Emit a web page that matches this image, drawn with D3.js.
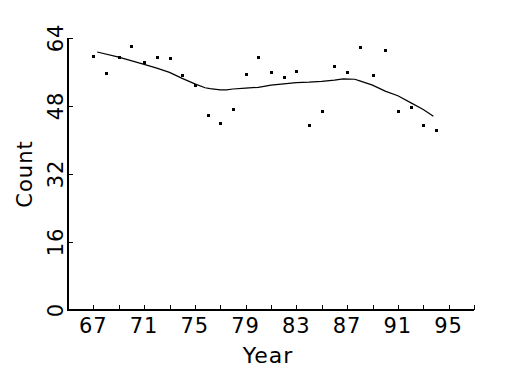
<!DOCTYPE html>
<html lang="en">
<head>
<meta charset="utf-8">
<script src="https://d3js.org/d3.v7.min.js"></script>
<style>
  body { margin: 0; background: #fff; }
  text { font-family: "DejaVu Sans", sans-serif; fill: #000; }
</style>
</head>
<body>
<script type="text/javascript">

// scatter points, one per year
var years = [67, 68, 69, 70, 71, 72, 73, 74, 75, 76, 77, 78, 79, 80,
             81, 82, 83, 84, 85, 86, 87, 88, 89, 90, 91, 92, 93, 94];
var counts = [59.8, 55.8, 59.5, 62.1, 58.3, 59.5, 59.3, 55.3, 52.9, 46.0, 43.9, 47.2, 55.5, 59.5,
              55.9, 54.8, 56.2, 43.5, 46.8, 57.3, 55.9, 61.8, 55.2, 61.1, 46.8, 47.7, 43.5, 42.3];

// smoothed curve
var smoothYears = [67.3, 69, 71, 72, 73, 74, 75, 75.8, 76.2, 77, 77.5, 78, 79, 80,
                   81, 82, 83, 84, 85, 86, 86.7, 87.6, 88, 89, 90, 91, 92, 93, 93.8];
var smoothCounts = [60.7, 59.5, 57.8, 56.9, 55.9, 54.5, 53.2, 52.3, 52.1, 51.8, 51.8, 52.0, 52.2, 52.4,
                    52.9, 53.2, 53.5, 53.6, 53.8, 54.1, 54.4, 54.3, 53.9, 52.9, 51.5, 50.4, 48.8, 47.2, 45.6];

var xTicks = [67, 69, 71, 73, 75, 77, 79, 81, 83, 85, 87, 89, 91, 93, 95, 97];
var xLabels = [67, 71, 75, 79, 83, 87, 91, 95];
var yTicks = [0, 16, 32, 48, 64];

var width = 525, height = 375;
var plotLeft = 68, plotRight = 474, plotTop = 38, plotBottom = 310;

var svg = d3.select("body").append("svg")
  .attr("width", width)
  .attr("height", height);

var x = d3.scaleLinear().domain([65, 97]).range([plotLeft, plotRight]);
var y = d3.scaleLinear().domain([0, 64]).range([plotBottom, plotTop]);

// x axis, ticks point up into the plot
var xAxis = svg.append("g").attr("transform", "translate(0," + plotBottom + ")");
xAxis.append("line")
  .attr("x1", plotLeft - 1).attr("x2", plotRight)
  .attr("stroke", "#000").attr("stroke-width", 2);
xAxis.selectAll(".tick").data(xTicks).enter().append("line")
  .attr("x1", function(d) { return Math.round(x(d)) + 0.5; })
  .attr("x2", function(d) { return Math.round(x(d)) + 0.5; })
  .attr("y1", 0).attr("y2", -5)
  .attr("stroke", "#000").attr("stroke-width", 1);
xAxis.selectAll("text").data(xLabels).enter().append("text")
  .attr("x", function(d) { return x(d); })
  .attr("y", 23)
  .attr("text-anchor", "middle")
  .style("font-size", "21px")
  .style("letter-spacing", "1px")
  .text(function(d) { return d; });

// y axis, ticks point right, labels rotated
var yAxis = svg.append("g").attr("transform", "translate(" + plotLeft + ",0)");
yAxis.append("line")
  .attr("y1", plotTop).attr("y2", plotBottom + 1)
  .attr("stroke", "#000").attr("stroke-width", 2);
yAxis.selectAll(".tick").data(yTicks).enter().append("line")
  .attr("y1", function(d) { return Math.round(y(d)) + 0.5; })
  .attr("y2", function(d) { return Math.round(y(d)) + 0.5; })
  .attr("x1", 0).attr("x2", 5)
  .attr("stroke", "#000").attr("stroke-width", 1);
yAxis.selectAll("text").data(yTicks).enter().append("text")
  .attr("transform", function(d) { return "translate(-5," + y(d) + ") rotate(-90)"; })
  .attr("text-anchor", "middle")
  .style("font-size", "21px")
  .style("letter-spacing", "1px")
  .text(function(d) { return d; });

// axis titles
svg.append("text")
  .attr("x", (plotLeft + plotRight) / 2 - 3)
  .attr("y", 363)
  .attr("text-anchor", "middle")
  .style("font-size", "22px")
  .style("letter-spacing", "1px")
  .text("Year");

svg.append("text")
  .attr("transform", "translate(32," + (plotTop + plotBottom) / 2 + ") rotate(-90)")
  .attr("text-anchor", "middle")
  .style("font-size", "21px")
  .style("letter-spacing", "1px")
  .text("Count");

// smoothed line
var line = d3.line()
  .x(function(d, i) { return x(smoothYears[i]); })
  .y(function(d) { return y(d); });

svg.append("path")
  .attr("d", line(smoothCounts))
  .attr("fill", "none")
  .attr("stroke", "#000")
  .attr("stroke-width", 1.2);

// points
svg.selectAll("rect.pt").data(counts).enter().append("rect")
  .attr("class", "pt")
  .attr("x", function(d, i) { return Math.round(x(years[i])) - 1; })
  .attr("y", function(d) { return Math.round(y(d)) - 1; })
  .attr("width", 3)
  .attr("height", 3)
  .attr("fill", "#000");

</script>
</body>
</html>
